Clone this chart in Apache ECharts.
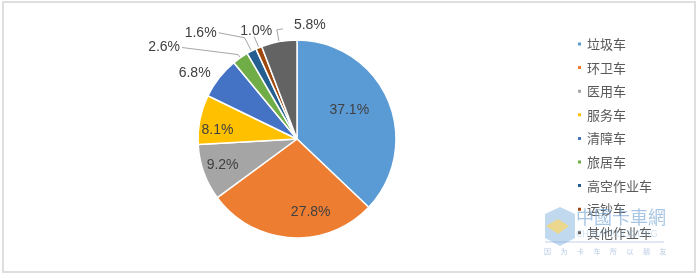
<!DOCTYPE html>
<html><head><meta charset="utf-8">
<script src="https://cdn.jsdelivr.net/npm/echarts@6/dist/echarts.min.js"></script>
<style>html,body{margin:0;padding:0;background:#fff}#c{width:700px;height:278px}</style>
</head><body><div id="c"></div>
<script>
const categories = ['垃圾车','环卫车','医用车','服务车','清障车','旅居车','高空作业车','运钞车','其他作业车'];
const shares = [37.1, 27.8, 9.2, 8.1, 6.8, 2.6, 1.6, 1.0, 5.8];
const colors = ['#5B9BD5','#ED7D31','#A5A5A5','#FFC000','#4472C4','#70AD47','#255E91','#9E480E','#636363'];
const sloganChars = ['因','为','卡','车','所','以','朋','友'];

// label placement style per slice
const insideSet = [0,1,2,3];
const lineLen = {4:[2,0],5:[4,56],6:[15,22],7:[12,0],8:[12,0]};
const nudge = {0:[4,-8],1:[17,21],2:[-25,8],3:[-28,1],4:[-5,-3],5:[0,-7],6:[-4,-5],7:[20,-5],8:[51,-5]};

const chart = echarts.init(document.getElementById('c'));
const data = categories.map((n,i)=>{
  const d = {name:n, value:shares[i], itemStyle:{color:colors[i]}};
  if (insideSet.includes(i)) {
    d.label = {position:'inside'};
    d.labelLine = {show:false};
  } else {
    d.label = {position:'outside'};
    const L = lineLen[i];
    d.labelLine = {show: L[0]+L[1] > 4, length:L[0], length2:L[1], lineStyle:{color:'#a6a6a6', width:1}};
  }
  return d;
});
const slogan = sloganChars.map((c,k)=>({type:'text', left:544+k*16.5, top:248, style:{text:c, fill:'rgba(110,150,200,0.5)', font:'7px "Noto Sans CJK SC"'}, z:100}));
chart.setOption({
  animation:false,
  backgroundColor:'#fff',
  graphic:[
    {type:'rect', shape:{x:3,y:2,width:692,height:270}, style:{fill:'none', stroke:'#dedede', lineWidth:2}, z:-1},
    {type:'polygon', shape:{points:[[560,207],[575,214],[575,238],[560,246],[545,238],[545,214]]}, style:{fill:'rgba(140,185,225,0.55)'}, z:100},
    {type:'polygon', shape:{points:[[546,226],[558,219],[569,226],[558,234]]}, style:{fill:'rgba(250,215,110,0.75)'}, z:101},
    {type:'text', left:576, top:208, style:{text:'中國卡車網', fill:'rgba(110,160,210,0.6)', font:'18px "Noto Sans CJK TC"'}, z:100},
    {type:'text', left:576, top:230, style:{text:'CHINATRUCK.ORG', fill:'rgba(150,190,225,0.45)', font:'9px "DejaVu Sans"'}, z:100},
    {type:'line', shape:{x1:545,y1:242,x2:664,y2:242}, style:{stroke:'rgba(110,150,200,0.45)', lineWidth:1}, z:100}
  ].concat(slogan),
  legend:{
    orient:'vertical', left:571, top:31,
    icon:'rect', itemWidth:5, itemHeight:5, itemGap:7.6,
    textStyle:{color:'#595959', fontSize:13, lineHeight:16, fontFamily:'"Noto Sans CJK SC", sans-serif'},
    data:categories
  },
  series:[{
    type:'pie', center:[297,139], radius:99, startAngle:90, clockwise:true,
    avoidLabelOverlap:false,
    itemStyle:{borderColor:'#fff', borderWidth:1.5},
    label:{color:'#404040', fontSize:14, fontFamily:'"Liberation Sans Narrow","Liberation Sans",sans-serif', formatter:p=>p.value.toFixed(1)+'%', distanceToLabelLine:2},
    labelLayout: p => {
      const i = p.dataIndex, n = nudge[i] || [0,0];
      const out = {dx:n[0], dy:n[1]};
      const pts = p.labelLinePoints;
      if (pts && pts.length === 3 && !insideSet.includes(i)) {
        if (i === 8) {
          out.align = 'left';
          out.dx = n[0] - 32;
          out.labelLinePoints = [pts[0], pts[1], [pts[1][0]+6, pts[1][1]-1]];
        } else if (i === 7) {
          out.labelLinePoints = [pts[0], pts[1], pts[1]];
        } else {
          out.labelLinePoints = [pts[0], pts[1], [pts[2][0]+n[0], pts[2][1]+n[1]]];
        }
      }
      return out;
    },
    data:data
  }]
});
</script></body></html>
